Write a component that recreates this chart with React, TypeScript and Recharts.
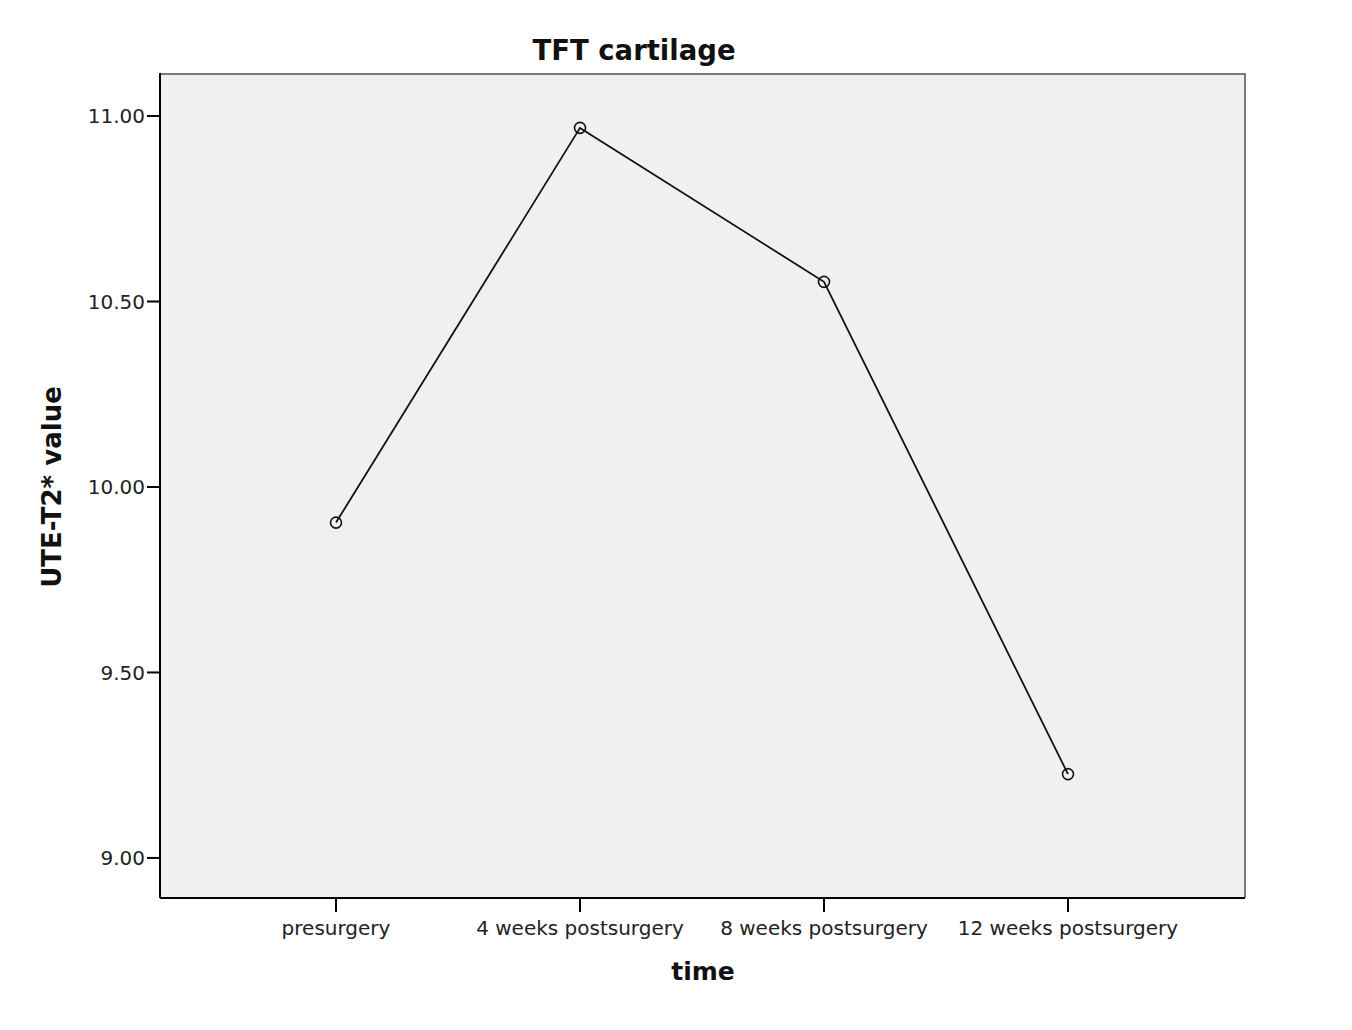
import { LineChart, Line, XAxis, YAxis, CartesianGrid } from 'recharts'

const TIMES = ['presurgery', '4 weeks postsurgery', '8 weeks postsurgery', '12 weeks postsurgery']
const UTE_T2 = [9.904, 10.968, 10.553, 9.226]
const Y_TICKS = [9, 9.5, 10, 10.5, 11]

const DATA = TIMES.map((time, i) => ({ time, value: UTE_T2[i] }))

const FONT = '"DejaVu Sans", sans-serif'

export default function App() {
  return (
    <div style={{ position: 'absolute', left: 0, top: 0, width: 1352, height: 1030, background: '#fff' }}>
      <LineChart width={1352} height={1030} data={DATA} margin={{ top: 73, right: 107, left: 60, bottom: 52 }}>
        <CartesianGrid fill="#f0f0f0" horizontal={false} vertical={false} />
        {/* frame: grey top and right edges */}
        <CartesianGrid fill="none" stroke="#7a7a7a" strokeWidth={2} horizontalPoints={[74]} verticalPoints={[1245]} />
        <XAxis
          dataKey="time"
          scale="point"
          padding={{ left: 176, right: 177 }}
          height={80}
          tickSize={14}
          tickMargin={9}
          tick={{ fontSize: 20, fill: '#222', fontFamily: FONT }}
          tickLine={{ stroke: '#000', strokeWidth: 2 }}
          axisLine={{ stroke: '#000', strokeWidth: 2 }}
        />
        <YAxis
          domain={[8.892, 11.116]}
          ticks={Y_TICKS}
          width={100}
          tickSize={13}
          tickFormatter={(v: number) => v.toFixed(2)}
          tick={{ fontSize: 20, fill: '#222', fontFamily: FONT }}
          tickLine={{ stroke: '#000', strokeWidth: 2 }}
          axisLine={{ stroke: '#000', strokeWidth: 2 }}
        />
        <Line
          type="linear"
          dataKey="value"
          stroke="#111"
          strokeWidth={1.8}
          dot={{ r: 5.5, fill: 'none', stroke: '#111', strokeWidth: 1.6 }}
          activeDot={false}
          isAnimationActive={false}
        />
        <text x={634} y={60} textAnchor="middle" fontFamily={FONT} fontWeight="bold" fontSize={27.5} fill="#111">TFT cartilage</text>
        <text x={703} y={980} textAnchor="middle" fontFamily={FONT} fontWeight="bold" fontSize={25} fill="#111">time</text>
        <text x={61} y={487} textAnchor="middle" fontFamily={FONT} fontWeight="bold" fontSize={26} fill="#111" transform="rotate(-90 61 487)">UTE-T2* value</text>
      </LineChart>
    </div>
  )
}
